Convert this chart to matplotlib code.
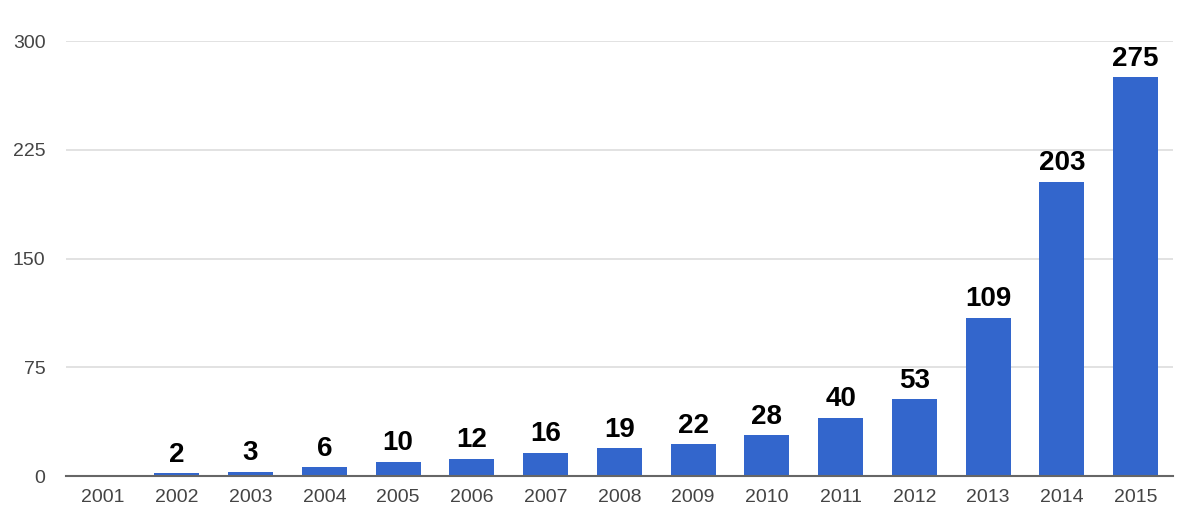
import numpy as np
import matplotlib.pyplot as plt

years = ['2001', '2002', '2003', '2004', '2005', '2006', '2007', '2008',
         '2009', '2010', '2011', '2012', '2013', '2014', '2015']
counts = [0, 2, 3, 6, 10, 12, 16, 19, 22, 28, 40, 53, 109, 203, 275]
yticks = [0, 75, 150, 225, 300]


def main():
    plt.rcParams['font.family'] = ['Liberation Sans', 'DejaVu Sans']
    fig = plt.figure(figsize=(11.82, 5.2), dpi=100)
    ax = fig.add_axes([0.056, 0.0846, 0.936, 0.8365])

    x = np.arange(len(years))
    ax.bar(x, counts, width=0.61, color='#3366CC', zorder=3)

    # value labels above bars (the zero bar has none)
    for xi, v in zip(x, counts):
        if v > 0:
            ax.annotate(str(v), (xi, v), xytext=(0, 4),
                        textcoords='offset points', ha='center', va='bottom',
                        fontsize=20, fontweight='bold', color='black')

    ax.set_xlim(-0.5, len(years) - 0.5)
    ax.set_ylim(0, 300)
    ax.set_yticks(yticks)
    ax.set_xticks(x)
    ax.set_xticklabels(years)
    ax.tick_params(axis='both', length=0, labelsize=14, labelcolor='#444444')
    ax.tick_params(axis='y', pad=15)
    ax.tick_params(axis='x', pad=9)
    ax.grid(axis='y', color='#dddddd', linewidth=1.2, zorder=0)
    for s in ['top', 'right', 'left']:
        ax.spines[s].set_visible(False)
    ax.spines['bottom'].set_color('#666666')
    ax.spines['bottom'].set_linewidth(1.5)
    ax.spines['bottom'].set_zorder(4)

    fig.savefig('out.png', dpi=100)


if __name__ == '__main__':
    main()
